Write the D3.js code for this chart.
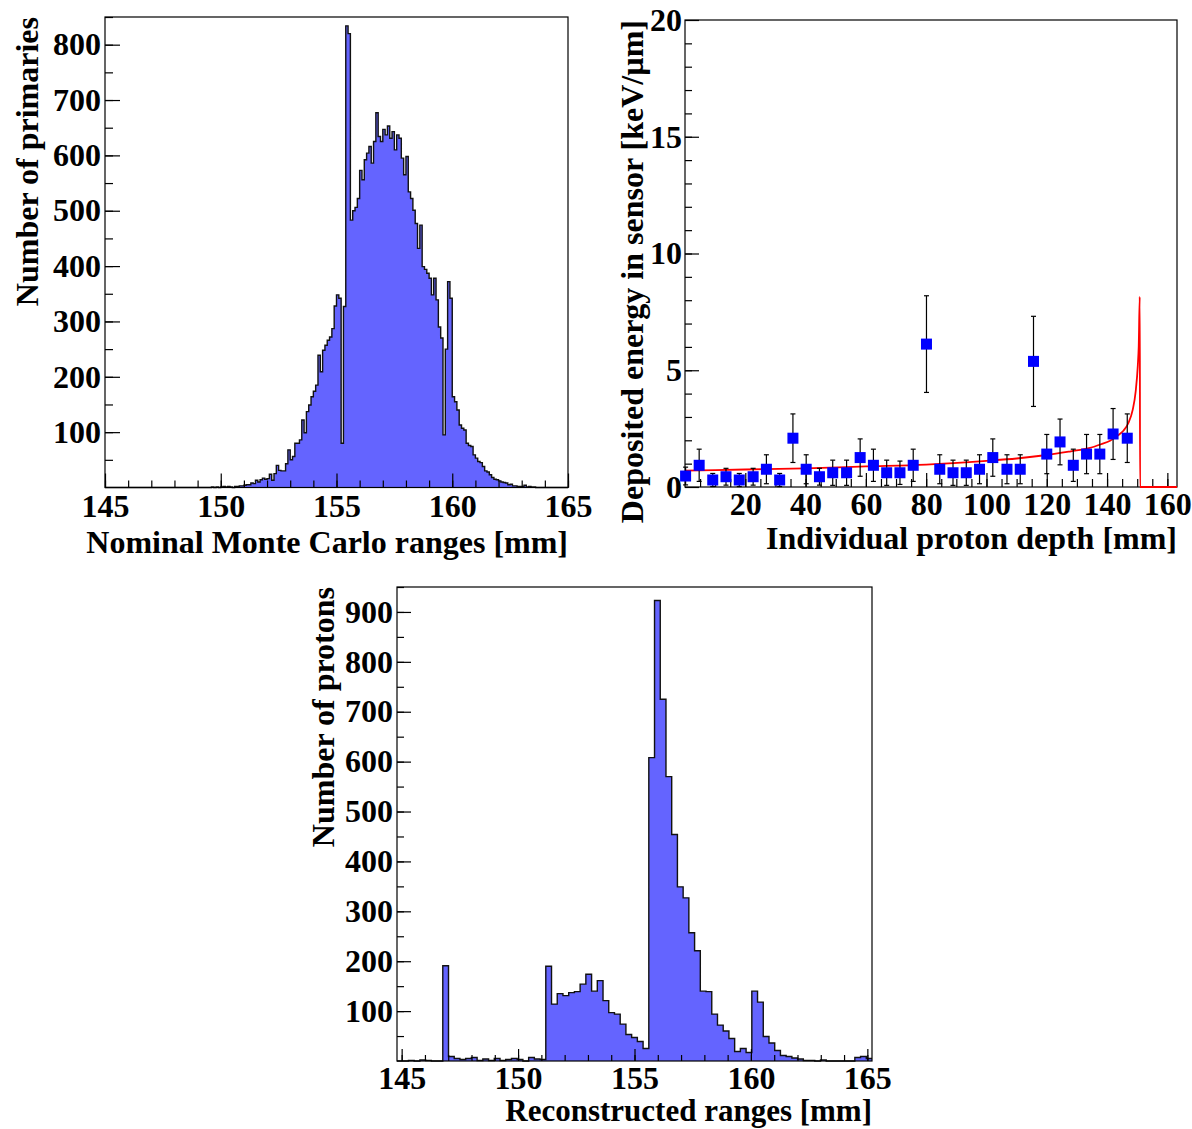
<!DOCTYPE html>
<html><head><meta charset="utf-8">
<script src="https://cdn.jsdelivr.net/npm/d3@7"></script>
<style>
body{margin:0;background:#fff}
text{font-family:"Liberation Serif","Times New Roman",serif;font-weight:bold;fill:#000}
</style>
</head><body>
<svg id="c" width="1192" height="1129"></svg>
<script>
// ---------------- DATA ----------------
// Panel 1: Nominal Monte Carlo ranges (200 bins of 0.1 mm from 145 mm)
const primBinStart = 145, primBinWidth = 0.1;
const primCounts = [
  0,0,0,0,0,0,0,0,0,0,
  0,0,0,0,0,0,0,0,0,0,
  0,0,0,0,0,0,0,0,0,0,
  0,0,0,0,0,0,0,0,0,0,
  0,0,0,0,0,0,1,0,1,0,
  1,2,1,2,1,0,2,2,3,3,
  4,5,5,8,7,13,10,14,17,15,
  16,24,13,25,40,31,30,30,43,68,
  50,56,80,80,86,122,99,137,149,164,
  174,185,239,209,248,257,266,272,287,328,
  348,342,80,327,834,820,483,500,506,522,
  573,556,592,604,616,586,625,677,634,625,
  647,637,653,631,643,610,637,631,595,565,
  598,534,522,501,477,432,474,399,394,387,
  378,348,378,339,290,270,95,250,372,342,
  164,155,140,113,107,104,80,76,74,59,
  53,47,45,38,30,28,23,18,15,14,
  12,10,9,8,5,6,3,3,2,2,
  2,4,1,2,1,1,0,0,0,0,
  0,0,0,0,0,0,0,0,0,0
];
const primXTicks = [145,150,155,160,165];
const primYTicks = [100,200,300,400,500,600,700,800];

// Panel 2: deposited energy vs depth
const depthMm = [0.2,4.7,9.2,13.6,18.0,22.6,27.0,31.4,35.8,40.2,44.6,49.0,53.6,58.1,62.5,66.9,71.3,75.7,80.1,84.5,88.9,93.3,97.7,102.1,106.8,111.2,115.6,120.0,124.4,128.8,133.2,137.6,142.0,146.7];
const dedx = [0.47,0.93,0.30,0.44,0.30,0.44,0.76,0.30,2.09,0.76,0.44,0.61,0.61,1.26,0.93,0.61,0.61,0.93,6.12,0.76,0.61,0.61,0.76,1.26,0.76,0.76,5.38,1.41,1.93,0.93,1.41,1.41,2.27,2.09];
const dedxErr = [0.38,0.69,0.28,0.36,0.28,0.36,0.62,0.28,1.04,0.62,0.36,0.54,0.54,0.80,0.69,0.54,0.50,0.69,2.07,0.62,0.54,0.54,0.62,0.80,0.62,0.62,1.93,0.84,0.98,0.69,0.84,0.84,1.09,1.04];
const braggDepth = [0,20,40,60,80,100,110,120,128,134,138,141,143.5,145.5,147,148.5,149.5,150.2,150.5,150.85,150.95,163.2];
const braggDedx  = [0.70,0.75,0.80,0.88,0.96,1.12,1.22,1.37,1.53,1.66,1.83,1.98,2.2,2.42,2.72,3.3,4.1,5.2,6.0,8.15,0,0];
const depthXTicks = [20,40,60,80,100,120,140,160];
const dedxYTicks = [0,5,10,15,20];

// Panel 3: reconstructed ranges (83 bins from 144.8 to 165.2 mm)
const recoBinStart = 144.8, recoBinWidth = 20.4/83;
const recoCounts = [
  0,0,1,0,2,1,0,0,
  191,
  9,5,3,5,7,1,4,1,5,1,3,5,3,0,7,4,3,
  190,114,135,131,137,139,154,174,140,161,121,97,94,74,53,47,39,25,
  608,923,725,570,454,349,327,257,221,140,139,94,72,60,45,19,25,17,140,118,49,36,21,11,9,6,4,1,1,0,2,0,0,0,0,0,7,9,5
];
const recoXTicks = [145,150,155,160,165];
const recoYTicks = [100,200,300,400,500,600,700,800,900];

// ---------------- DRAW ----------------
const svg = d3.select("#c");
const FILL = "#6464ff";

function frame(g, L, R, T, B){
  g.append("rect").attr("x",L).attr("y",T).attr("width",R-L).attr("height",B-T)
   .attr("fill","none").attr("stroke","#000").attr("stroke-width",1.2);
}
function axes(g, x, y, L, T, B, opt){
  g.append("g").attr("transform",`translate(0,${B})`)
   .call(d3.axisBottom(x).tickValues(opt.xMinor).tickSize(-opt.xMinLen).tickFormat(""))
   .call(s=>s.select(".domain").remove());
  g.append("g").attr("transform",`translate(0,${B})`)
   .call(d3.axisBottom(x).tickValues(opt.xMajor).tickSize(-opt.xMajLen).tickPadding(opt.xPad).tickFormat(d3.format("d")))
   .call(s=>s.select(".domain").remove())
   .call(s=>s.selectAll("text").style("font-size",opt.fs+"px").attr("fill","#000"));
  g.append("g").attr("transform",`translate(${L},0)`)
   .call(d3.axisLeft(y).tickValues(opt.yMinor).tickSize(-opt.yMinLen).tickFormat(""))
   .call(s=>s.select(".domain").remove());
  g.append("g").attr("transform",`translate(${L},0)`)
   .call(d3.axisLeft(y).tickValues(opt.yMajor).tickSize(-opt.yMajLen).tickPadding(opt.yPad).tickFormat(d3.format("d")))
   .call(s=>s.select(".domain").remove())
   .call(s=>s.selectAll("text").style("font-size",opt.fs+"px").attr("fill","#000"));
  g.selectAll(".tick line").attr("stroke","#000").attr("stroke-width",1.2);
  g.selectAll("g").attr("font-family",null).attr("font-size",null);
}
function hist(g, x, y, start, width, counts){
  const pts = [];
  counts.forEach((c,i)=>{ const a = start+i*width, b = a+width; pts.push([a,c],[b,c]); });
  const area = d3.area().x(d=>x(d[0])).y0(y(0)).y1(d=>y(d[1]));
  const line = d3.line().x(d=>x(d[0])).y(d=>y(d[1]));
  g.append("path").attr("d",area(pts)).attr("fill",FILL).attr("stroke","none");
  g.append("path").attr("d",line(pts)).attr("fill","none").attr("stroke","#111").attr("stroke-width",1.4);
}
function range(a,b,s){ const r=[]; for(let v=a; v<=b+1e-9; v+=s) r.push(+v.toFixed(6)); return r; }

// ---- Panel 1 ----
{
  const L=105,R=568,T=17,B=487.5;
  const x = d3.scaleLinear().domain([145,165]).range([L,R]);
  const y = d3.scaleLinear().domain([0,850]).range([B,T]);
  const g = svg.append("g");
  hist(g,x,y,primBinStart,primBinWidth,primCounts);
  axes(g,x,y,L,T,B,{xMinor:range(145,165,1),xMajor:primXTicks,xMinLen:7,xMajLen:14,xPad:7,
    yMinor:range(50,850,50),yMajor:primYTicks,yMinLen:8,yMajLen:15,yPad:4,fs:32});
  frame(g,L,R,T,B);
  g.append("text").attr("x",R).attr("y",553).attr("text-anchor","end").style("font-size","32px")
   .text("Nominal Monte Carlo ranges [mm]");
  g.append("text").attr("transform",`translate(38,${T}) rotate(-90)`).attr("text-anchor","end").style("font-size","32px")
   .text("Number of primaries");
}
// ---- Panel 2 ----
{
  const L=685,R=1177,T=20,B=487;
  const x = d3.scaleLinear().domain([0,163.2]).range([L,R]);
  const y = d3.scaleLinear().domain([0,20]).range([B,T]);
  const g = svg.append("g");
  axes(g,x,y,L,T,B,{xMinor:range(5,160,5),xMajor:depthXTicks,xMinLen:8,xMajLen:14,xPad:5,
    yMinor:range(1,19,1),yMajor:dedxYTicks,yMinLen:7,yMajLen:14,yPad:3,fs:32});
  frame(g,L,R,T,B);
  const line = d3.line().x((d,i)=>x(braggDepth[i])).y((d,i)=>y(braggDedx[i])).curve(d3.curveMonotoneX);
  g.append("path").attr("d",line(braggDepth)).attr("fill","none").attr("stroke","#ff0000").attr("stroke-width",1.8);
  const pts = g.append("g");
  depthMm.forEach((d,i)=>{
    const cx = x(d), y1 = y(dedx[i]+dedxErr[i]), y0 = y(Math.max(0,dedx[i]-dedxErr[i]));
    pts.append("line").attr("x1",cx).attr("x2",cx).attr("y1",y1).attr("y2",y0).attr("stroke","#000").attr("stroke-width",1.2);
    pts.append("line").attr("x1",cx-2.5).attr("x2",cx+2.5).attr("y1",y1).attr("y2",y1).attr("stroke","#000").attr("stroke-width",1.2);
    pts.append("line").attr("x1",cx-2.5).attr("x2",cx+2.5).attr("y1",y0).attr("y2",y0).attr("stroke","#000").attr("stroke-width",1.2);
  });
  depthMm.forEach((d,i)=>{
    pts.append("rect").attr("x",x(d)-5.5).attr("y",y(dedx[i])-5.5).attr("width",11).attr("height",11).attr("fill","#0000ff");
  });
  g.append("text").attr("x",R).attr("y",549).attr("text-anchor","end").style("font-size","32px")
   .text("Individual proton depth [mm]");
  g.append("text").attr("transform",`translate(643,${T}) rotate(-90)`).attr("text-anchor","end").style("font-size","32px")
   .text("Deposited energy in sensor [keV/µm]");
}
// ---- Panel 3 ----
{
  const L=397,R=872,T=587,B=1061;
  const x = d3.scaleLinear().domain([144.8,165.2]).range([L,R]);
  const y = d3.scaleLinear().domain([0,950]).range([B,T]);
  const g = svg.append("g");
  hist(g,x,y,recoBinStart,recoBinWidth,recoCounts);
  axes(g,x,y,L,T,B,{xMinor:range(145,165,1),xMajor:recoXTicks,xMinLen:6,xMajLen:12,xPad:5,
    yMinor:range(50,950,50),yMajor:recoYTicks,yMinLen:7,yMajLen:14,yPad:4,fs:32});
  frame(g,L,R,T,B);
  g.append("text").attr("x",R).attr("y",1121).attr("text-anchor","end").style("font-size","31px")
   .text("Reconstructed ranges [mm]");
  g.append("text").attr("transform",`translate(334,${T}) rotate(-90)`).attr("text-anchor","end").style("font-size","32px")
   .text("Number of protons");
}
</script>
</body></html>
